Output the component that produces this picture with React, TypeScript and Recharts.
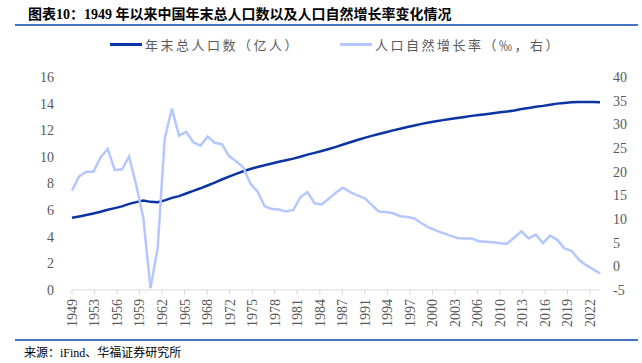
import React from 'react';
import { LineChart, Line, XAxis, YAxis } from 'recharts';

const years = [
  1949, 1950, 1951, 1952, 1953, 1954, 1955, 1956, 1957, 1958,
  1959, 1960, 1961, 1962, 1963, 1964, 1965, 1966, 1967, 1968,
  1969, 1970, 1971, 1972, 1973, 1974, 1975, 1976, 1977, 1978,
  1979, 1980, 1981, 1982, 1983, 1984, 1985, 1986, 1987, 1988,
  1989, 1990, 1991, 1992, 1993, 1994, 1995, 1996, 1997, 1998,
  1999, 2000, 2001, 2002, 2003, 2004, 2005, 2006, 2007, 2008,
  2009, 2010, 2011, 2012, 2013, 2014, 2015, 2016, 2017, 2018,
  2019, 2020, 2021, 2022, 2023,
];

// 年末总人口数（亿人）
const population = [
  5.42, 5.52, 5.63, 5.75, 5.88, 6.03, 6.15, 6.28, 6.47, 6.60,
  6.72, 6.62, 6.59, 6.73, 6.92, 7.05, 7.25, 7.45, 7.64, 7.85,
  8.07, 8.30, 8.52, 8.72, 8.92, 9.09, 9.24, 9.37, 9.50, 9.63,
  9.75, 9.87, 10.01, 10.17, 10.30, 10.44, 10.59, 10.75, 10.93, 11.10,
  11.27, 11.43, 11.58, 11.72, 11.85, 11.99, 12.11, 12.24, 12.36, 12.48,
  12.58, 12.67, 12.76, 12.85, 12.92, 13.00, 13.08, 13.14, 13.21, 13.28,
  13.35, 13.41, 13.49, 13.59, 13.67, 13.76, 13.83, 13.92, 14.00, 14.05,
  14.10, 14.12, 14.13, 14.12, 14.10,
];

// 人口自然增长率（‰）
const growthRate = [
  16.0, 19.0, 20.0, 20.0, 23.0, 24.8, 20.3, 20.5, 23.2, 17.2,
  10.2, -4.6, 3.8, 27.0, 33.3, 27.6, 28.4, 26.2, 25.5, 27.4,
  26.1, 25.8, 23.3, 22.2, 20.9, 17.5, 15.8, 12.7, 12.1, 12.0,
  11.6, 11.9, 14.6, 15.7, 13.3, 13.1, 14.3, 15.6, 16.6, 15.7,
  15.0, 14.4, 13.0, 11.6, 11.5, 11.2, 10.6, 10.4, 10.1, 9.1,
  8.2, 7.6, 7.0, 6.5, 6.0, 5.9, 5.9, 5.3, 5.2, 5.1,
  4.9, 4.8, 6.1, 7.4, 5.9, 6.7, 4.9, 6.5, 5.6, 3.8,
  3.3, 1.5, 0.3, -0.6, -1.5,
];

const xTickLabels = [
  '1949', '1953', '1956', '1959', '1962', '1965', '1968', '1972',
  '1975', '1978', '1981', '1984', '1987', '1991', '1994', '1997',
  '2000', '2003', '2006', '2010', '2013', '2016', '2019', '2022',
];
const leftTicks = [0, 2, 4, 6, 8, 10, 12, 14, 16];
const rightTicks = [-5, 0, 5, 10, 15, 20, 25, 30, 35, 40];

const DARK = '#0a34a3';
const LIGHT = '#b4c8ff';
const AXIS_TEXT = '#595959';
const SERIF = "'Liberation Serif', 'Noto Sans CJK SC', serif";
const CJK = "'Noto Sans CJK SC', sans-serif";

const data = years.map((year, i) => ({
  year,
  population: population[i],
  growth: growthRate[i],
}));

// the category labels are spread evenly, a little wider than 3 years apart
const tickStep = 3.157;
const xTicks = xTickLabels.map((_, i) => 1949 + i * tickStep);

const YearTick = (props: any) => {
  const { x, y, payload } = props;
  const idx = xTicks.indexOf(payload.value);
  const label = xTickLabels[idx >= 0 ? idx : props.index];
  return (
    <g transform={`translate(${x},${y + 2})`}>
      <text
        transform="rotate(-90)"
        textAnchor="end"
        dy="0.35em"
        fill={AXIS_TEXT}
        fontSize={14}
        fontFamily={SERIF}
      >
        {label}
      </text>
    </g>
  );
};

function LegendItem({ color, label }: { color: string; label: string }) {
  return (
    <div style={{ display: 'flex', alignItems: 'center' }}>
      <div style={{ width: 32, height: 3, background: color, marginRight: 3 }} />
      <span style={{ fontFamily: CJK, fontSize: 13, color: AXIS_TEXT, letterSpacing: 2.5 }}>
        {label}
      </span>
    </div>
  );
}

export default function App() {
  return (
    <div
      style={{
        position: 'absolute',
        left: 0,
        top: 0,
        width: 642,
        height: 363,
        background: '#fff',
        overflow: 'hidden',
      }}
    >
      <div
        style={{
          position: 'absolute',
          left: 28,
          top: 3,
          fontFamily: SERIF,
          fontWeight: 'bold',
          fontSize: 14,
          color: '#000',
          whiteSpace: 'pre',
        }}
      >
        {'图表10：1949 年以来中国年末总人口数以及人口自然增长率变化情况'}
      </div>
      <div style={{ position: 'absolute', left: 15, right: 4, top: 24, height: 1.5, background: '#4472c4' }} />

      <div style={{ position: 'absolute', left: 110, top: 35, display: 'flex', gap: 40 }}>
        <LegendItem color={DARK} label="年末总人口数（亿人）" />
        <LegendItem color={LIGHT} label="人口自然增长率（‰，右）" />
      </div>

      <div style={{ position: 'absolute', left: 0, top: 0 }}>
        <LineChart
          width={642}
          height={363}
          data={data}
          margin={{ top: 77, right: 0, bottom: 33, left: 0 }}
        >
          <XAxis
            dataKey="year"
            type="number"
            domain={[1949, 2023]}
            ticks={xTicks}
            interval={0}
            height={40}
            axisLine={{ stroke: '#d9d9d9' }}
            tickLine={{ stroke: '#d9d9d9' }}
            tickSize={5}
            tick={<YearTick />}
          />
          <YAxis
            yAxisId="left"
            domain={[0, 16]}
            ticks={leftTicks}
            width={72}
            axisLine={false}
            tickLine={false}
            tickSize={0}
            tickMargin={18}
            tick={{ fill: AXIS_TEXT, fontSize: 14, fontFamily: SERIF }}
          />
          <YAxis
            yAxisId="right"
            orientation="right"
            domain={[-5, 40]}
            ticks={rightTicks}
            width={42}
            axisLine={false}
            tickLine={false}
            tickSize={0}
            tickMargin={13}
            tick={{ fill: AXIS_TEXT, fontSize: 14, fontFamily: SERIF, textAnchor: 'start' }}
          />
          <Line
            yAxisId="left"
            dataKey="population"
            type="linear"
            stroke={DARK}
            strokeWidth={2.5}
            dot={false}
            isAnimationActive={false}
          />
          <Line
            yAxisId="right"
            dataKey="growth"
            type="linear"
            stroke={LIGHT}
            strokeWidth={2.5}
            dot={false}
            isAnimationActive={false}
          />
        </LineChart>
      </div>

      <div style={{ position: 'absolute', left: 15, right: 4, top: 339, height: 1.5, background: '#4472c4' }} />
      <div
        style={{
          position: 'absolute',
          left: 24,
          top: 343,
          fontFamily: SERIF,
          fontSize: 12,
          color: '#000',
          whiteSpace: 'nowrap',
        }}
      >
        来源：iFind、华福证券研究所
      </div>
    </div>
  );
}
